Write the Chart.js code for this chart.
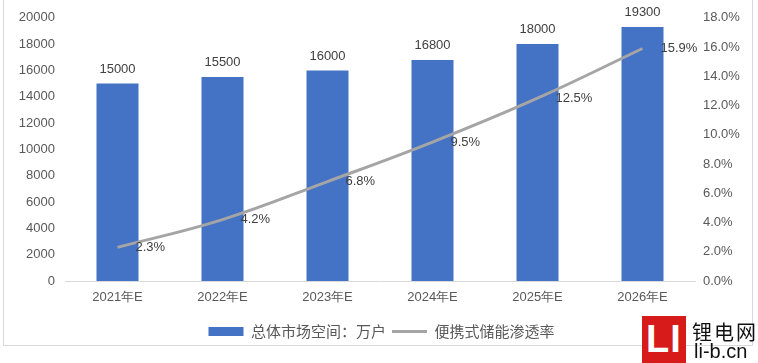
<!DOCTYPE html>
<html>
<head>
<meta charset="utf-8">
<script src="https://cdn.jsdelivr.net/npm/chart.js@4.4.1/dist/chart.umd.min.js"></script>
<style>
  body { margin: 0; background: #fff; }
  #wrap { position: relative; width: 758px; height: 363px; overflow: hidden; }
  .logo-box {
    position: absolute; left: 642px; top: 316px; width: 44px; height: 47px;
    background: #d71a1a; color: #fff; text-align: center;
    font: bold 38px/47px "Liberation Sans", Arial, sans-serif; letter-spacing: 1px;
  }
  .logo-cn, .logo-en { position: absolute; white-space: nowrap; color: #111; line-height: 22px; }
  .logo-cn { left: 692px; top: 317px; font: 20px "Noto Sans CJK SC", sans-serif; letter-spacing: 2px; }
  .logo-en { left: 694px; top: 340px; font: 20px "Liberation Sans", Arial, sans-serif; }
</style>
</head>
<body>
<div id="wrap">
  <canvas id="chart"></canvas>
  <div class="logo-box">LI</div>
  <div class="logo-cn">锂电网</div>
  <div class="logo-en">li-b.cn</div>
</div>
<script>
// chart data
const years = ['2021年E', '2022年E', '2023年E', '2024年E', '2025年E', '2026年E'];
const marketSize = [15000, 15500, 16000, 16800, 18000, 19300];
const penetration = [2.3, 4.2, 6.8, 9.5, 12.5, 15.9];
const leftMax = 20000, leftStep = 2000;
const rightMax = 18, rightStep = 2;

const tickFont = { family: '"Liberation Sans", Arial, sans-serif', size: 13 };
const tickColor = '#595959';

// labels on bars and line points
const valueLabels = {
    id: 'valueLabels',
    afterDatasetsDraw(chart) {
        const ctx = chart.ctx;
        ctx.save();
        ctx.font = '13px "Liberation Sans", Arial, sans-serif';
        ctx.fillStyle = '#404040';
        chart.getDatasetMeta(0).data.forEach((bar, i) => {
            ctx.textAlign = 'center';
            ctx.textBaseline = 'bottom';
            ctx.fillText(marketSize[i], bar.x, bar.y - 8);
        });
        chart.getDatasetMeta(1).data.forEach((pt, i) => {
            ctx.textAlign = 'left';
            ctx.textBaseline = 'middle';
            ctx.fillText(penetration[i].toFixed(1) + '%', pt.x + 18, pt.y);
        });
        ctx.restore();
    }
};

// light frame round the picture
const frame = {
    id: 'frame',
    beforeDraw(chart) {
        const ctx = chart.ctx;
        ctx.save();
        ctx.fillStyle = '#fff';
        ctx.fillRect(0, 0, chart.width, chart.height);
        ctx.strokeStyle = '#d9d9d9';
        ctx.lineWidth = 1;
        ctx.strokeRect(3.5, -1, 749, 346.5);
        ctx.restore();
    }
};

new Chart(document.getElementById('chart'), {
    type: 'bar',
    data: {
        labels: years,
        datasets: [{
            label: '总体市场空间：万户',
            data: marketSize,
            backgroundColor: '#4472c4',
            yAxisID: 'y',
            barPercentage: 0.8,
            categoryPercentage: 0.5,
            order: 2
        }, {
            type: 'line',
            label: '便携式储能渗透率',
            data: penetration,
            borderColor: '#a5a5a5',
            backgroundColor: '#a5a5a5',
            borderWidth: 3,
            pointRadius: 0,
            tension: 0.4,
            yAxisID: 'y1',
            order: 1
        }]
    },
    options: {
        responsive: true,
        maintainAspectRatio: false,
        animation: false,
        layout: { padding: { left: 5, right: 0, top: 17, bottom: 14 } },
        plugins: {
            tooltip: { enabled: false },
            legend: {
                position: 'bottom',
                labels: {
                    usePointStyle: true,
                    pointStyleWidth: 35,
                    boxHeight: 9,
                    padding: 6,
                    color: tickColor,
                    font: { family: '"Noto Sans CJK SC", sans-serif', size: 15 },
                    sort: (a, b) => a.datasetIndex - b.datasetIndex,
                    generateLabels(chart) {
                        const items = Chart.defaults.plugins.legend.labels.generateLabels(chart);
                        items.forEach(it => {
                            if (it.datasetIndex === 0) {
                                it.pointStyle = 'rect';
                                it.lineWidth = 0;
                            } else {
                                it.pointStyle = 'line';
                                it.lineWidth = 3;
                                it.strokeStyle = '#a5a5a5';
                            }
                        });
                        return items;
                    }
                }
            }
        },
        scales: {
            x: {
                grid: { display: false, drawTicks: false },
                border: { display: true, color: '#d9d9d9' },
                ticks: { color: tickColor, font: tickFont, padding: 9 },
                afterFit: s => { s.height = 37; }
            },
            y: {
                position: 'left',
                min: 0, max: leftMax,
                grid: { display: false, drawTicks: false },
                border: { display: false },
                ticks: {
                    stepSize: leftStep, color: tickColor, font: tickFont, padding: 10,
                    callback: v => String(v)
                },
                afterFit: s => { s.width = 60; }
            },
            y1: {
                position: 'right',
                min: 0, max: rightMax,
                grid: { display: false, drawTicks: false },
                border: { display: false },
                ticks: {
                    stepSize: rightStep, color: tickColor, font: tickFont, padding: 8,
                    callback: v => v.toFixed(1) + '%'
                },
                afterFit: s => { s.width = 63; }
            }
        }
    },
    plugins: [frame, valueLabels]
});
</script>
</body>
</html>
